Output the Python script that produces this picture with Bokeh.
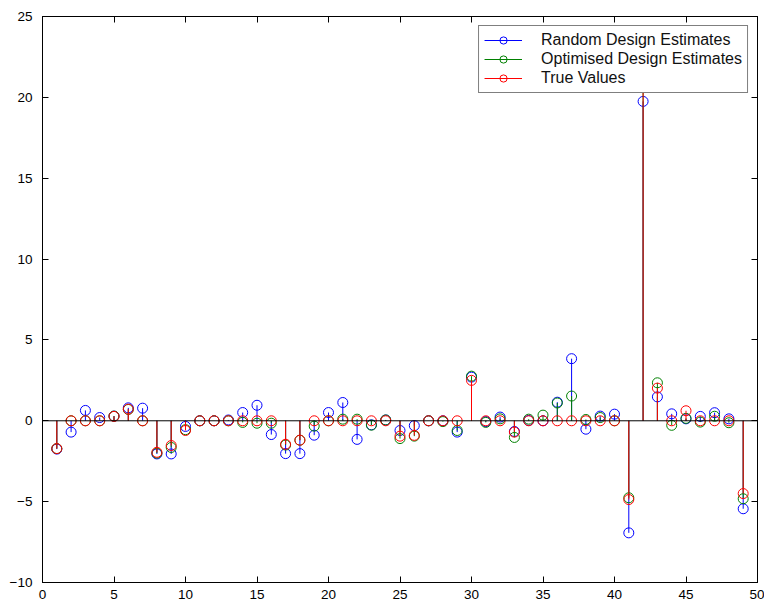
from bokeh.plotting import figure
from bokeh.models import (Range1d, LinearAxis, SingleIntervalTicker, Span, Legend, LegendItem,
                          CustomJSTickFormatter)
from bokeh.embed import file_html
from bokeh.resources import INLINE

idx = list(range(1, 50))

random_est = [-1.75, -0.7, 0.64, 0.2, 0.29, 0.8, 0.78, -2.05, -2.05, -0.35,
              0.0, 0.0, 0.05, 0.51, 0.96, -0.85, -2.03, -2.03, -0.89, 0.51,
              1.13, -1.15, -0.25, 0.05, -0.6, -0.3, 0.0, 0.0, -0.7, 2.7,
              -0.05, 0.23, -0.66, 0.02, 0.0, 1.15, 3.84, -0.52, 0.29, 0.41,
              -6.93, 19.75, 1.48, 0.43, 0.12, 0.27, 0.5, 0.12, -5.44]

optimised_est = [-1.72, 0.0, 0.0, 0.0, 0.29, 0.7, 0.0, -2.0, -1.65, -0.55,
                 0.0, 0.0, 0.0, -0.1, -0.15, -0.15, -1.5, -1.2, -0.33, 0.0,
                 0.1, 0.1, -0.27, 0.05, -1.1, -0.95, 0.0, -0.05, -0.6, 2.76,
                 -0.1, 0.12, -1.03, 0.1, 0.35, 1.1, 1.53, 0.08, 0.2, 0.0,
                 -4.76, 22.5, 2.35, -0.28, 0.15, -0.08, 0.28, -0.12, -4.82]

true_vals = [-1.72, 0.0, 0.0, 0.0, 0.27, 0.72, 0.0, -1.95, -1.53, -0.6,
             0.0, 0.0, 0.0, 0.0, 0.0, 0.0, -1.45, -1.2, 0.0, 0.0,
             0.0, 0.0, 0.0, 0.0, -0.95, -0.9, 0.0, 0.0, 0.0, 2.5,
             0.0, 0.0, -0.7, 0.0, 0.0, 0.0, 0.0, 0.0, 0.0, 0.0,
             -4.87, 22.5, 2.02, 0.0, 0.62, 0.0, 0.0, 0.0, -4.5]

series = [
    ("Random Design Estimates", random_est, "#0000ff"),
    ("Optimised Design Estimates", optimised_est, "#008000"),
    ("True Values", true_vals, "#ff0000"),
]

FONT = "Liberation Sans"

p = figure(width=764, height=603, output_backend="svg", toolbar_location=None,
           x_range=Range1d(0, 50), y_range=Range1d(-10, 25),
           min_border_left=42, min_border_right=7, min_border_top=16, min_border_bottom=21)
p.axis.visible = False
p.grid.visible = False
p.outline_line_color = "black"
p.outline_line_width = 1
p.background_fill_color = "white"
p.border_fill_color = "white"

def style_axis(ax, show_labels):
    ax.ticker = SingleIntervalTicker(interval=5)
    ax.major_tick_in = 6
    ax.major_tick_out = 0
    ax.minor_tick_line_color = None
    ax.axis_line_color = "black"
    ax.major_tick_line_color = "black"
    ax.major_label_text_font = FONT
    ax.major_label_text_font_size = "13.5px"
    ax.major_label_text_color = "black"
    if not show_labels:
        ax.formatter = CustomJSTickFormatter(code="return '';")
        ax.major_label_standoff = 0

xb = LinearAxis(); style_axis(xb, True); xb.major_label_standoff = 3
yl = LinearAxis(); style_axis(yl, True); yl.major_label_standoff = 6
yl.major_label_overrides = {-5: "\u22125", -10: "\u221210"}
xt = LinearAxis(); style_axis(xt, False)
yr = LinearAxis(); style_axis(yr, False)
p.add_layout(xb, "below")
p.add_layout(yl, "left")
p.add_layout(xt, "above")
p.add_layout(yr, "right")

items = []
for name, vals, col in series:
    seg = p.segment(x0=idx, y0=[0] * len(idx), x1=idx, y1=vals, line_color=col, line_width=1)
    sc = p.scatter(x=idx, y=vals, marker="circle", size=10, fill_color=None, line_color=col, line_width=1)
    items.append(LegendItem(label=name, renderers=[seg, sc]))

p.add_layout(Span(location=0, dimension="width", line_color="black", line_width=1))

legend = Legend(items=items, location="top_right")
legend.margin = 9
legend.padding = 5
legend.spacing = 1
legend.glyph_width = 38
legend.glyph_height = 18
legend.label_standoff = 19
legend.label_width = 196
legend.label_text_font = FONT
legend.label_text_font_size = "16px"
legend.label_text_color = "#111111"
legend.border_line_color = "black"
legend.border_line_width = 1
legend.background_fill_color = "white"
legend.background_fill_alpha = 1
p.add_layout(legend, "center")

open("out.html", "w").write(file_html(p, INLINE))
